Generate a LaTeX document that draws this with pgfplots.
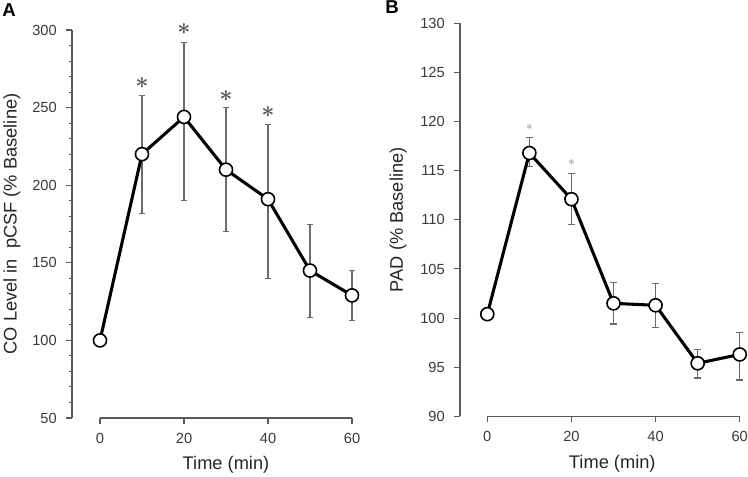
\documentclass[border=0pt]{standalone}
\usepackage{pgfplots}
\pgfplotsset{compat=1.18}
\usepackage{amsmath}
\usepackage{fontspec}
\setmainfont{Liberation Sans}
\definecolor{axgray}{HTML}{5A5A5A}
\definecolor{txtgray}{HTML}{3A3A3A}
\definecolor{ebgray}{HTML}{6A6A6A}
\definecolor{stargray}{HTML}{555555}
\pgfplotsset{
  panel/.style={
    scale only axis,
    anchor=south west,
    axis x line*=bottom,
    axis y line*=left,
    x axis line style={draw=none},
    y axis line style={draw=axgray, line width=0.8pt, -},
    tick style={draw=axgray, line width=0.8pt},
    tick align=outside,
    major tick length=4.5pt,
    minor tick length=2.5pt,
    xtick={0,20,40,60},
    xmin=-6.667, xmax=62,
    clip=false,
    /pgf/number format/assume math mode=true,
    ticklabel style={font=\fontsize{11}{12}\selectfont, text=txtgray},
    xticklabel style={anchor=center, inner sep=0pt, yshift=-10.5pt},
    yticklabel style={anchor=east, inner sep=0pt, xshift=-6.75pt},
    label style={font=\fontsize{13.7}{15}\selectfont, text=black!85},
    xlabel={Time (min)},
  },
  dline/.style={black, line width=2.3pt, mark=*, mark size=4.9pt,
    mark options={fill=white, draw=black, line width=1.2pt}},
  ebars/.style={draw=none, mark=none, forget plot,
    error bars/.cd, y dir=both, y explicit,
    error bar style={draw=ebgray, line width=0.8pt},
    error mark options={rotate=90, draw=ebgray, mark size=2.6pt, line width=0.8pt}},
}
\begin{document}
\begin{tikzpicture}
\useasboundingbox (0,0) rectangle (561pt,357.75pt);
% ---------------- Panel A ----------------
\begin{axis}[panel,
  at={(54pt,44.25pt)},
  width=216.3pt, height=291pt,
  ymin=50, ymax=300,
  ytick={50,100,150,200,250,300},
  minor y tick num=4,
  xlabel style={at={(axis description cs:0.534,-0.1211)}, anchor=center},
  ylabel={CO Level in\ \ pCSF (\% Baseline)},
  ylabel style={at={(axis description cs:-0.208,0.5)}, anchor=center},
]
\draw[axgray, line width=0.8pt] (axis cs:0,50) -- (axis cs:60,50);
\addplot[ebars] coordinates {
  (10,220) += (0,38) -= (0,38)
  (20,244) += (0,48) -= (0,54)
  (30,210) += (0,40) -= (0,40)
  (40,191) += (0,48) -= (0,51)
  (50,145) += (0,29.5) -= (0,30)
  (60,129) += (0,16) -= (0,16)
};
\addplot[dline] coordinates {
  (0,100) (10,220) (20,244) (30,210) (40,191) (50,145) (60,129)
};
\node[text=stargray, font=\fontsize{17}{17}\selectfont] at (axis cs:10,266) {$\boldsymbol{\ast}$};
\node[text=stargray, font=\fontsize{17}{17}\selectfont] at (axis cs:20,300.4) {$\boldsymbol{\ast}$};
\node[text=stargray, font=\fontsize{17}{17}\selectfont] at (axis cs:30,257.7) {$\boldsymbol{\ast}$};
\node[text=stargray, font=\fontsize{17}{17}\selectfont] at (axis cs:40,247.2) {$\boldsymbol{\ast}$};
\end{axis}
% ---------------- Panel B ----------------
\begin{axis}[panel,
  at={(345pt,45.5pt)},
  width=216.1pt, height=294.75pt,
  xmin=-6.49,
  ymin=90, ymax=130,
  ytick={90,95,100,105,110,115,120,125,130},
  xlabel style={at={(axis description cs:0.5285,-0.1196)}, anchor=center},
  ylabel={PAD (\% Baseline)},
  ylabel style={at={(axis description cs:-0.215,0.5)}, anchor=center},
]
\draw[axgray, line width=0.8pt] (axis cs:0,90) -- (axis cs:60,90);
\addplot[ebars] coordinates {
  (10,116.8) += (0,1.6) -= (0,1.4)
  (20,112.1) += (0,2.6) -= (0,2.6)
  (30,101.5) += (0,2.1) -= (0,2.1)
  (40,101.3) += (0,2.2) -= (0,2.3)
  (50,95.4) += (0,1.4) -= (0,1.5)
  (60,96.3) += (0,2.2) -= (0,2.6)
};
\addplot[dline] coordinates {
  (0,100.4) (10,116.8) (20,112.1) (30,101.5) (40,101.3) (50,95.4) (60,96.3)
};
\node[text=gray, font=\fontsize{10}{10}\selectfont] at (axis cs:10,119.4) {$\ast$};
\node[text=gray, font=\fontsize{10}{10}\selectfont] at (axis cs:20,115.85) {$\ast$};
\end{axis}
% panel letters
\node[anchor=base west, inner sep=0pt, font=\fontsize{14}{14}\selectfont\bfseries] at (1.5pt,345.4pt) {A};
\node[anchor=base west, inner sep=0pt, font=\fontsize{14}{14}\selectfont\bfseries] at (288.75pt,347.25pt) {B};
\end{tikzpicture}
\end{document}
